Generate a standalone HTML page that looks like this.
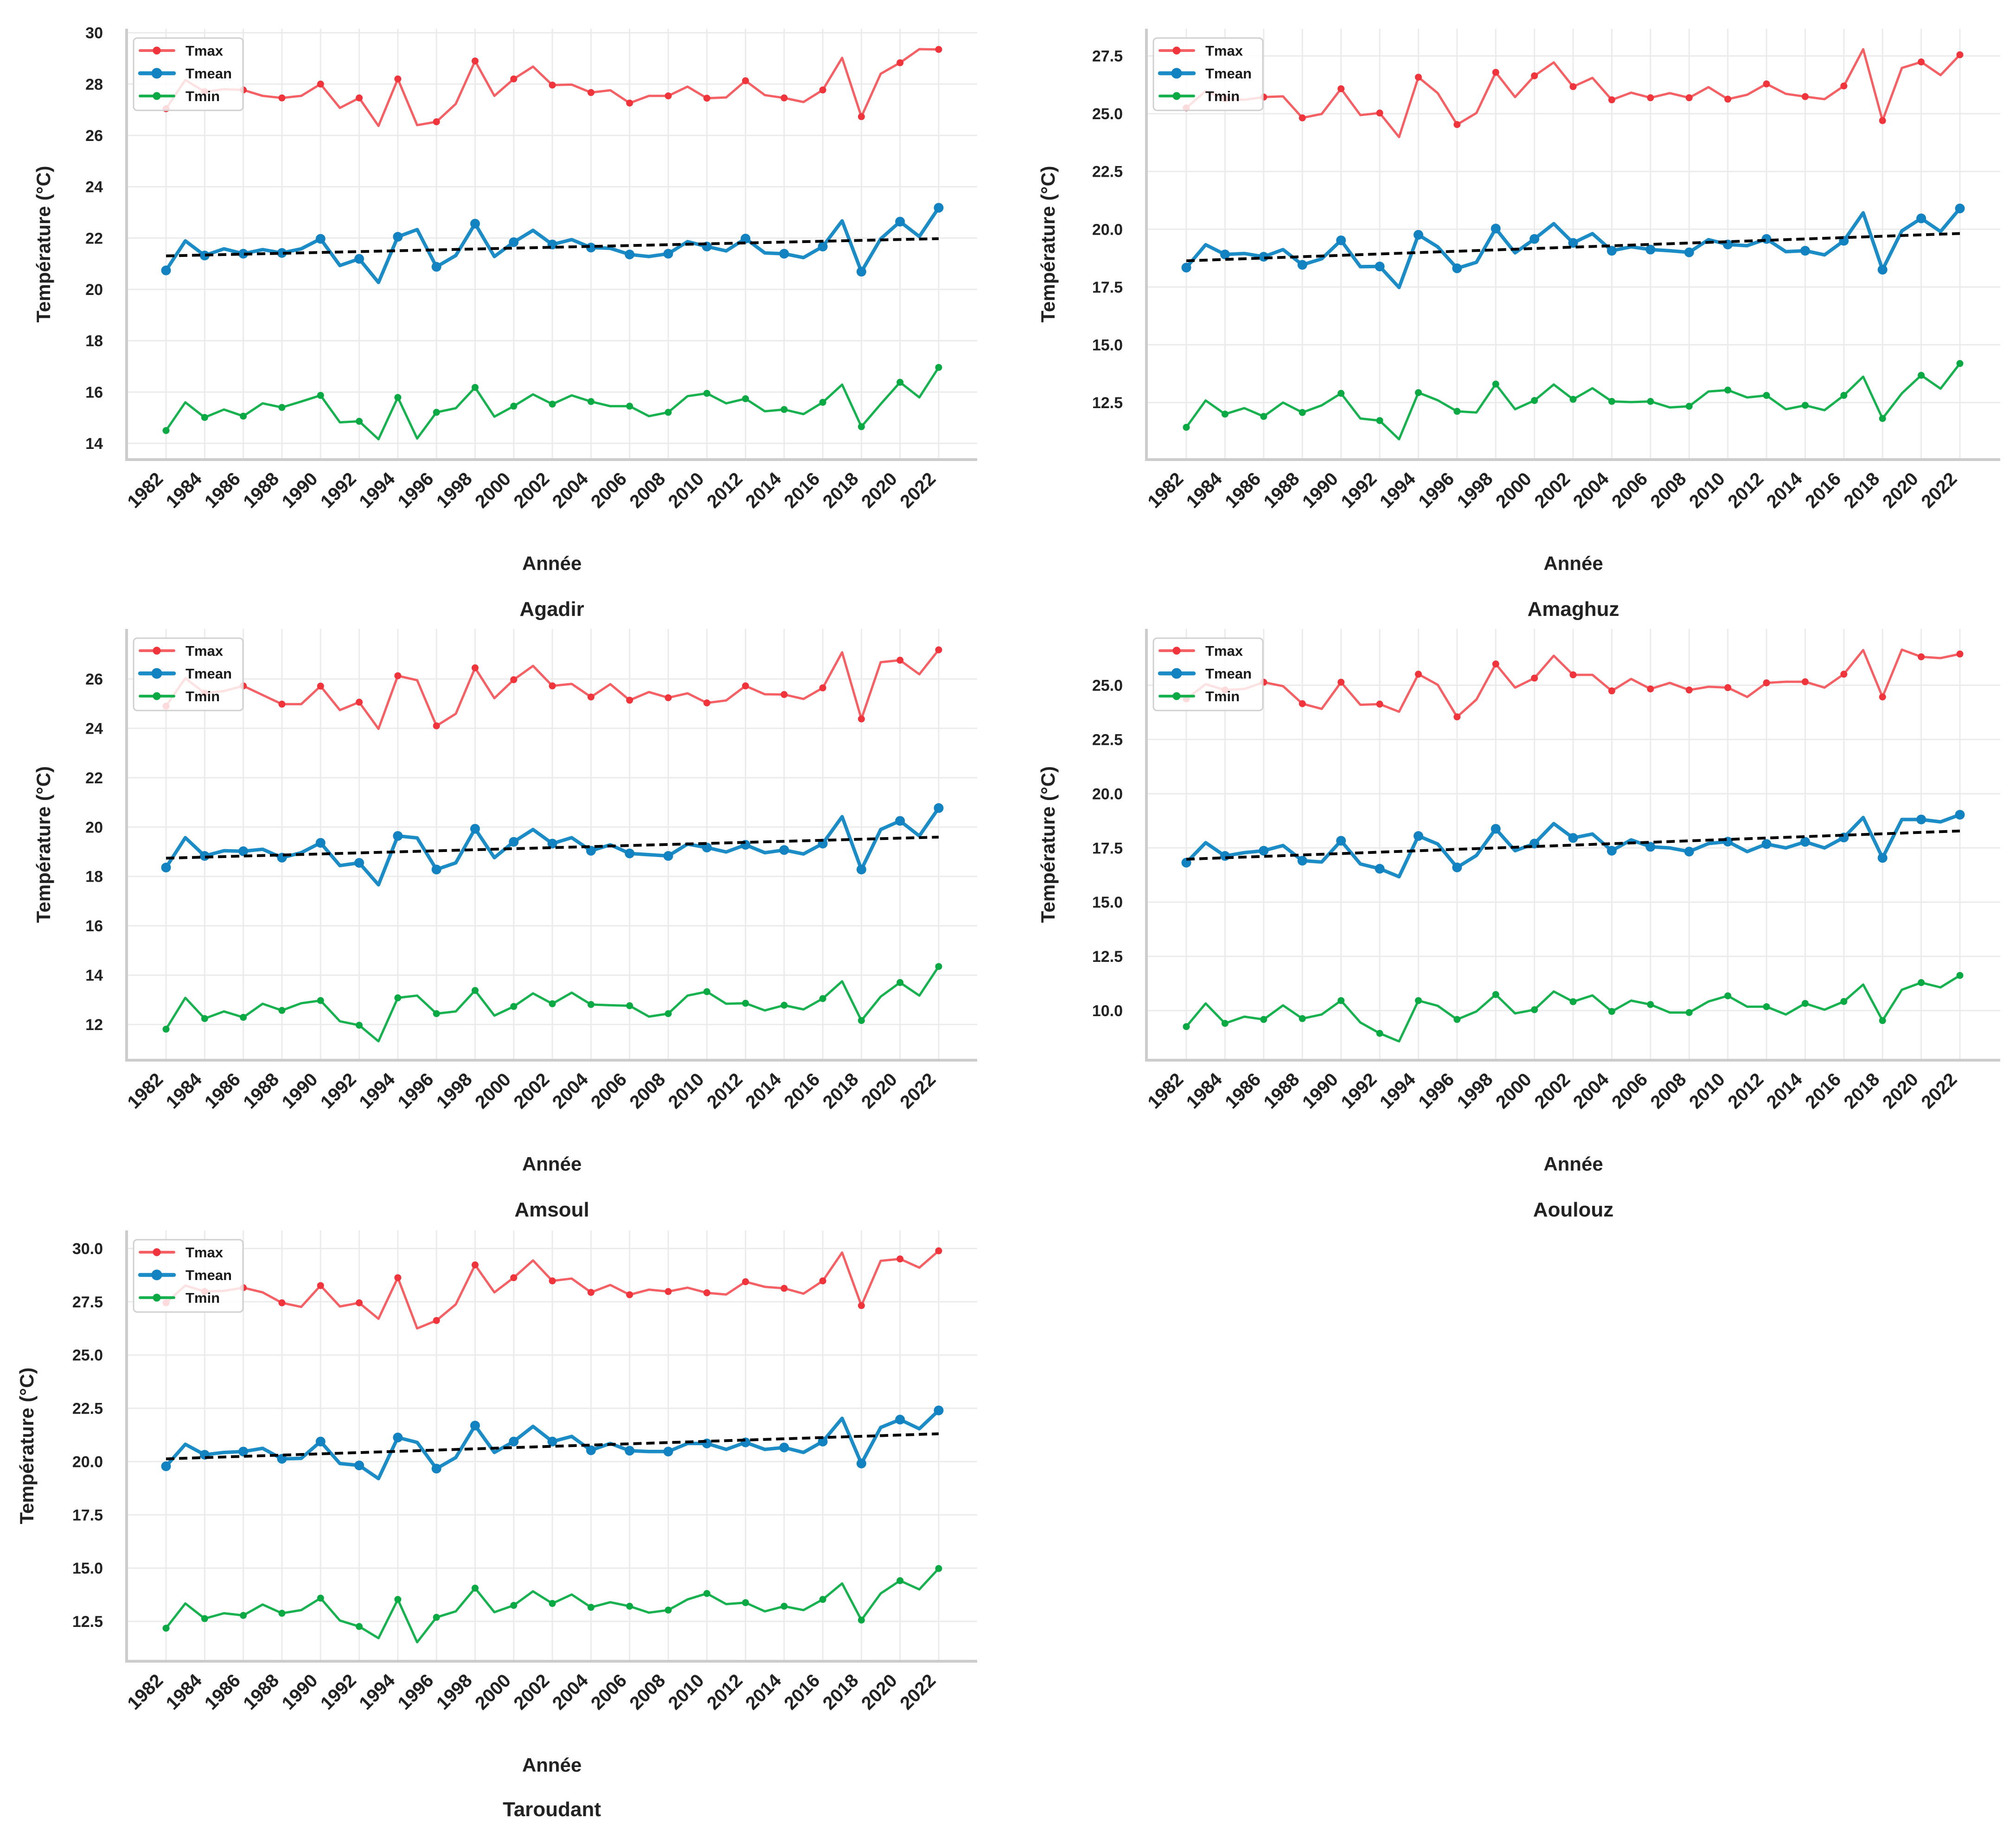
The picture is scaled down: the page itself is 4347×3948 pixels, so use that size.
<!DOCTYPE html>
<html><head><meta charset="utf-8">
<style>
html,body{margin:0;padding:0;background:#fff;}
svg{display:block;font-family:"Liberation Sans",Arial,sans-serif;}
</style></head>
<body>
<svg id="fig" xmlns="http://www.w3.org/2000/svg" width="4347" height="3948" viewBox="0 0 4347 3948"></svg>
<script>
const years = [1982,1983,1984,1985,1986,1987,1988,1989,1990,1991,1992,1993,1994,1995,1996,1997,1998,1999,2000,2001,2002,2003,2004,2005,2006,2007,2008,2009,2010,2011,2012,2013,2014,2015,2016,2017,2018,2019,2020,2021,2022];
const xTickYears = [1982,1984,1986,1988,1990,1992,1994,1996,1998,2000,2002,2004,2006,2008,2010,2012,2014,2016,2018,2020,2022];

const agadirTmax = [27.04,28.16,27.7,27.8,27.77,27.54,27.46,27.54,28.0,27.07,27.46,26.37,28.2,26.4,26.53,27.23,28.9,27.54,28.2,28.68,27.96,27.98,27.67,27.76,27.26,27.54,27.54,27.9,27.45,27.48,28.13,27.57,27.46,27.3,27.77,29.02,26.73,28.4,28.83,29.36,29.35];
const agadirTmean = [20.74,21.89,21.32,21.58,21.39,21.55,21.42,21.58,21.97,20.93,21.19,20.27,22.05,22.33,20.88,21.32,22.56,21.28,21.84,22.3,21.75,21.94,21.63,21.6,21.36,21.28,21.39,21.86,21.67,21.5,21.98,21.42,21.39,21.24,21.67,22.67,20.69,21.97,22.64,22.06,23.18];
const agadirTmin = [14.5,15.6,15.01,15.32,15.06,15.56,15.4,15.63,15.87,14.82,14.86,14.16,15.79,14.19,15.21,15.37,16.18,15.04,15.45,15.91,15.53,15.87,15.63,15.45,15.45,15.06,15.21,15.84,15.95,15.56,15.74,15.25,15.32,15.14,15.6,16.29,14.65,15.53,16.38,15.79,16.96];
const agadirTicks = [14,16,18,20,22,24,26,28,30];
const agadirTickLabels = ["14","16","18","20","22","24","26","28","30"];

const amaghuzTmax = [25.25,25.98,25.65,25.6,25.72,25.75,24.82,24.99,26.08,24.94,25.03,23.99,26.58,25.89,24.53,25.03,26.79,25.72,26.64,27.22,26.17,26.55,25.6,25.91,25.69,25.89,25.69,26.15,25.63,25.82,26.29,25.86,25.74,25.63,26.2,27.79,24.7,26.98,27.24,26.67,27.55];
const amaghuzTmean = [18.34,19.33,18.91,18.95,18.81,19.12,18.46,18.72,19.52,18.38,18.39,17.48,19.76,19.24,18.31,18.57,20.03,18.98,19.58,20.24,19.41,19.81,19.07,19.24,19.12,19.07,19.0,19.55,19.34,19.29,19.58,19.03,19.07,18.89,19.5,20.71,18.25,19.93,20.47,19.9,20.9];
const amaghuzTmin = [11.43,12.59,12.0,12.26,11.9,12.5,12.07,12.38,12.9,11.81,11.72,10.91,12.93,12.6,12.12,12.07,13.3,12.21,12.59,13.28,12.64,13.12,12.55,12.52,12.55,12.29,12.34,12.98,13.04,12.72,12.81,12.21,12.38,12.17,12.81,13.62,11.81,12.9,13.68,13.1,14.19];
const amaghuzTicks = [12.5,15,17.5,20,22.5,25,27.5];
const amaghuzTickLabels = ["12.5","15.0","17.5","20.0","22.5","25.0","27.5"];

const amsoulTmax = [24.9,26.03,25.43,25.51,25.72,25.35,24.98,24.98,25.71,24.74,25.06,23.98,26.13,25.95,24.1,24.59,26.45,25.22,25.97,26.53,25.72,25.8,25.27,25.79,25.14,25.47,25.24,25.42,25.03,25.13,25.72,25.38,25.37,25.19,25.64,27.08,24.38,26.68,26.76,26.19,27.18];
const amsoulTmean = [18.36,19.57,18.83,19.04,19.02,19.1,18.76,18.96,19.36,18.44,18.55,17.66,19.64,19.56,18.28,18.55,19.93,18.76,19.4,19.9,19.33,19.57,19.04,19.28,18.93,18.88,18.83,19.31,19.17,18.99,19.28,18.96,19.07,18.91,19.33,20.42,18.28,19.9,20.25,19.64,20.77];
const amsoulTmin = [11.81,13.08,12.24,12.53,12.29,12.84,12.57,12.86,12.97,12.13,11.97,11.32,13.08,13.17,12.44,12.53,13.38,12.36,12.73,13.26,12.84,13.29,12.81,12.78,12.76,12.32,12.44,13.17,13.33,12.84,12.86,12.57,12.78,12.61,13.05,13.75,12.16,13.13,13.7,13.17,14.35];
const amsoulTicks = [12,14,16,18,20,22,24,26];
const amsoulTickLabels = ["12","14","16","18","20","22","24","26"];

const aoulouzTmax = [24.37,25.05,24.78,24.83,25.14,24.96,24.15,23.91,25.14,24.1,24.13,23.78,25.51,25.02,23.54,24.34,25.98,24.89,25.33,26.36,25.48,25.48,24.74,25.29,24.83,25.11,24.78,24.93,24.89,24.46,25.11,25.16,25.16,24.89,25.51,26.62,24.46,26.64,26.31,26.25,26.44];
const aoulouzTmean = [16.82,17.74,17.13,17.28,17.37,17.61,16.91,16.85,17.83,16.76,16.54,16.17,18.05,17.68,16.6,17.15,18.38,17.37,17.7,18.62,17.96,18.14,17.37,17.87,17.55,17.5,17.33,17.7,17.79,17.33,17.68,17.5,17.78,17.5,17.98,18.9,17.04,18.81,18.81,18.7,19.03];
const aoulouzTmin = [9.26,10.33,9.41,9.72,9.59,10.24,9.63,9.82,10.46,9.45,8.95,8.58,10.46,10.22,9.59,9.96,10.74,9.87,10.04,10.88,10.41,10.7,9.96,10.46,10.28,9.91,9.91,10.42,10.68,10.18,10.18,9.82,10.33,10.04,10.42,11.2,9.54,10.96,11.29,11.07,11.62];
const aoulouzTicks = [10,12.5,15,17.5,20,22.5,25];
const aoulouzTickLabels = ["10.0","12.5","15.0","17.5","20.0","22.5","25.0"];

const taroudantTmax = [27.45,28.26,27.98,28.01,28.16,27.94,27.45,27.26,28.26,27.28,27.45,26.7,28.63,26.25,26.62,27.38,29.23,27.94,28.63,29.44,28.48,28.59,27.94,28.29,27.83,28.07,27.98,28.16,27.92,27.84,28.44,28.2,28.13,27.88,28.48,29.81,27.32,29.42,29.51,29.1,29.89];
const taroudantTmean = [19.78,20.81,20.32,20.43,20.47,20.62,20.13,20.15,20.94,19.91,19.82,19.2,21.13,20.9,19.67,20.19,21.69,20.43,20.94,21.65,20.94,21.18,20.53,20.85,20.51,20.47,20.47,20.85,20.85,20.57,20.9,20.57,20.66,20.43,20.94,22.03,19.91,21.6,21.97,21.54,22.4];
const taroudantTmin = [12.18,13.34,12.63,12.88,12.78,13.29,12.88,13.03,13.59,12.54,12.26,11.71,13.53,11.52,12.69,12.97,14.06,12.93,13.25,13.91,13.34,13.76,13.16,13.4,13.21,12.91,13.03,13.53,13.81,13.31,13.38,12.97,13.21,13.03,13.53,14.28,12.56,13.81,14.41,14.0,14.98];
const taroudantTicks = [12.5,15,17.5,20,22.5,25,27.5,30];
const taroudantTickLabels = ["12.5","15.0","17.5","20.0","22.5","25.0","27.5","30.0"];

const seriesNames = ["Tmax","Tmean","Tmin"];

const NS = "http://www.w3.org/2000/svg";
const fig = document.getElementById('fig');
function mk(tag, attrs, parent){
  const e = document.createElementNS(NS, tag);
  for (const k in attrs) e.setAttribute(k, attrs[k]);
  (parent||fig).appendChild(e);
  return e;
}
const styles = {
  Tmax:{line:"rgba(243,68,74,0.85)", mark:"#f0343b", w:5, r:7.5},
  Tmean:{line:"#1b8cc6", mark:"#1282c0", w:7.5, r:10.5},
  Tmin:{line:"#17b24f", mark:"#0aa944", w:5, r:7.5}
};

function panel(p){
  const g = mk('g', {});
  
  
  const xS = yr => p.x0 + (yr - 1982) * (p.x1 - p.x0) / 40;
  const yS = v => p.yA + (v - p.vA) * (p.yB - p.yA) / (p.vB - p.vA);
  xTickYears.forEach(yr=>{
    const l = mk('line',{x1:xS(yr),x2:xS(yr),y1:p.top,y2:p.bottom,stroke:"#ebebeb","stroke-width":3},g);
    
    
  });
  p.ticks.forEach(v=>{
    const l = mk('line',{x1:p.left,x2:p.right,y1:yS(v),y2:yS(v),stroke:"#ebebeb","stroke-width":3},g);
    
    
  });
  const sl = mk('line',{x1:p.left,x2:p.left,y1:p.top,y2:p.bottom+3,stroke:"#cccccc","stroke-width":6},g);
  
  
  const sb = mk('line',{x1:p.left-3,x2:p.right,y1:p.bottom,y2:p.bottom,stroke:"#cccccc","stroke-width":6},g);
  
  
  p.ticks.forEach((v,i)=>{
    const t = mk('text',{x:p.labelX,y:yS(v)+12,"text-anchor":"end","font-size":34,"font-weight":"bold",fill:"#222"},g);
    t.textContent = p.tickLabels[i];
    
    
  });
  xTickYears.forEach(yr=>{
    const ax = xS(yr)-4, ay = p.bottom+44;
    const t = mk('text',{x:ax,y:ay,"text-anchor":"end","font-size":40,"font-weight":"bold",fill:"#222",transform:`rotate(-45 ${ax} ${ay})`},g);
    t.textContent = String(yr);
    
    
  });
  p.series.forEach((vals, si)=>{
    const nm = seriesNames[si];
    const st = styles[nm];
    const pts = vals.map((v,i)=>xS(years[i]).toFixed(1)+','+yS(v).toFixed(1)).join(' ');
    const pl = mk('polyline',{points:pts,fill:"none",stroke:st.line,"stroke-width":st.w,"stroke-linejoin":"round"},g);
    
    
    vals.forEach((v,i)=>{
      if ((years[i]-1982)%2!==0) return;
      const c = mk('circle',{cx:xS(years[i]),cy:yS(v),r:st.r,fill:st.mark},g);
      
      
    });
  });
  const m = p.series[1];
  const n = years.length;
  const mx = years.reduce((a,b)=>a+b,0)/n, my = m.reduce((a,b)=>a+b,0)/n;
  let sxy=0,sxx=0;
  for(let i=0;i<n;i++){sxy+=(years[i]-mx)*(m[i]-my);sxx+=(years[i]-mx)**2;}
  const b = sxy/sxx;
  const tr = mk('line',{x1:xS(1982),y1:yS(my+b*(1982-mx)),x2:xS(2022),y2:yS(my+b*(2022-mx)),stroke:"#000","stroke-width":6,"stroke-dasharray":"18,10"},g);
  
  
  const lg = mk('g',{},g);
  
  
  const lx = p.left+15, ly = p.top+20;
  mk('rect',{x:lx,y:ly,width:236,height:156,rx:8,fill:"rgba(255,255,255,0.82)",stroke:"#d0d0d0","stroke-width":3},lg);
  seriesNames.forEach((nm,i)=>{
    const st = styles[nm];
    const yy = ly+27+i*49;
    const e = mk('g',{},lg);
    
    
    mk('line',{x1:lx+14,x2:lx+87,y1:yy,y2:yy,stroke:st.line,"stroke-width":st.w+1,"stroke-linecap":"round"},e);
    mk('circle',{cx:lx+50,cy:yy,r:st.r+1,fill:st.mark},e);
    const t = mk('text',{x:lx+112,y:yy+11,"font-size":31,"font-weight":"bold",fill:"#1a1a1a"},e);
    t.textContent = nm;
  });
  const cx = (p.left+p.right)/2;
  const xt = mk('text',{x:cx,y:p.anneeY,"text-anchor":"middle","font-size":42,"font-weight":"bold",fill:"#222"},g);
  xt.textContent = "Année";
  
  
  const ycy = (p.top+p.bottom)/2;
  const yt = mk('text',{x:p.yTitleX,y:ycy,"text-anchor":"middle","font-size":42,"font-weight":"bold",fill:"#222",transform:`rotate(-90 ${p.yTitleX} ${ycy})`},g);
  yt.textContent = "Température (°C)";
  
  
  const tt = mk('text',{x:cx,y:p.titleY,"text-anchor":"middle","font-size":44,"font-weight":"bold",fill:"#222"},g);
  tt.textContent = p.title;
  
  
}

const L = {left:273,right:2107,x0:358,x1:2024,labelX:222,yTitleX:108};
const R = {left:2472,right:4313,x0:2558,x1:4226,labelX:2421,yTitleX:2274};
panel(Object.assign({key:'agadir',title:'Agadir',top:62,bottom:991,vA:30,yA:70.6,vB:14,yB:956,ticks:agadirTicks,tickLabels:agadirTickLabels,series:[agadirTmax,agadirTmean,agadirTmin],anneeY:1229,titleY:1328},L));
panel(Object.assign({key:'amaghuz',title:'Amaghuz',top:62,bottom:991,vA:27.5,yA:120.6,vB:12.5,yB:868,ticks:amaghuzTicks,tickLabels:amaghuzTickLabels,series:[amaghuzTmax,amaghuzTmean,amaghuzTmin],anneeY:1229,titleY:1328},R));
panel(Object.assign({key:'amsoul',title:'Amsoul',top:1356,bottom:2286,vA:26,yA:1464,vB:12,yB:2209,ticks:amsoulTicks,tickLabels:amsoulTickLabels,series:[amsoulTmax,amsoulTmean,amsoulTmin],anneeY:2524,titleY:2623},L));
panel(Object.assign({key:'aoulouz',title:'Aoulouz',top:1356,bottom:2286,vA:25,yA:1477.5,vB:10,yB:2179,ticks:aoulouzTicks,tickLabels:aoulouzTickLabels,series:[aoulouzTmax,aoulouzTmean,aoulouzTmin],anneeY:2524,titleY:2623},R));
panel(Object.assign({key:'taroudant',title:'Taroudant',top:2653,bottom:3582,vA:30,yA:2692,vB:12.5,yB:3496,ticks:taroudantTicks,tickLabels:taroudantTickLabels,series:[taroudantTmax,taroudantTmean,taroudantTmin],anneeY:3820,titleY:3916},Object.assign({},L,{yTitleX:72})));
</script>
</body></html>
